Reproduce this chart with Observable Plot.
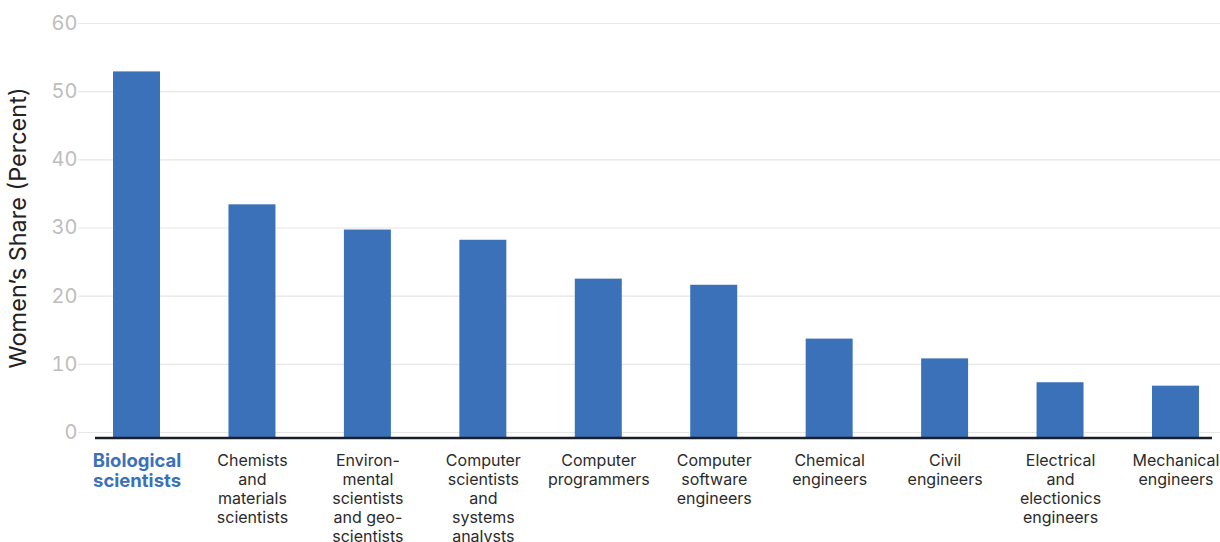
<!DOCTYPE html>
<html>
<head>
<meta charset="utf-8">
<script src="https://cdn.jsdelivr.net/npm/d3@7"></script>
<script src="https://cdn.jsdelivr.net/npm/@observablehq/plot@0.6"></script>
<style>
  html, body { margin: 0; padding: 0; background: #fff; }
  #chart svg { display: block; }
</style>
</head>
<body>
<div id="chart"></div>
<script>
const categories = [
  "Biological scientists",
  "Chemists and materials scientists",
  "Environmental scientists and geoscientists",
  "Computer scientists and systems analysts",
  "Computer programmers",
  "Computer software engineers",
  "Chemical engineers",
  "Civil engineers",
  "Electrical and electionics engineers",
  "Mechanical engineers"
];
const tickLabels = [
  "Biological\nscientists",
  "Chemists\nand\nmaterials\nscientists",
  "Environ-\nmental\nscientists\nand geo-\nscientists",
  "Computer\nscientists\nand\nsystems\nanalysts",
  "Computer\nprogrammers",
  "Computer\nsoftware\nengineers",
  "Chemical\nengineers",
  "Civil\nengineers",
  "Electrical\nand\nelectionics\nengineers",
  "Mechanical\nengineers"
];
const shares = [52.9, 33.4, 29.7, 28.2, 22.5, 21.6, 13.7, 10.8, 7.3, 6.8];
const yTicks = [0, 10, 20, 30, 40, 50, 60];
const yLabel = "Women’s Share (Percent)";

const data = categories.map((c, i) => ({category: c, label: tickLabels[i], share: shares[i]}));

const font = "Inter, 'Open Sans', sans-serif";

const chart = Plot.plot({
  width: 1220,
  height: 542,
  marginTop: 23,
  marginBottom: 110,
  marginLeft: 78,
  marginRight: 0,
  style: {fontFamily: font, background: "#fff"},
  x: {type: "band", domain: categories, range: [78.8, 1233.2], round: false, paddingInner: 0.593, paddingOuter: 0.2965, axis: null},
  y: {domain: [0, 60], ticks: yTicks, label: null},
  marks: [
    Plot.gridY(yTicks, {stroke: "#e6e6e6", strokeOpacity: 1, strokeWidth: 1.2}),
    Plot.axisY(yTicks, {tickSize: 0, tickPadding: 1, fontSize: 20, fill: "#bdbdbd", label: null}),
    Plot.barY(data, {x: "category", y: "share", fill: "#3b71b9", insetBottom: -5}),
    Plot.ruleY([0], {stroke: "#1b1f28", strokeWidth: 2.5, dy: 5.5, insetLeft: 17, insetRight: 8}),
    Plot.text(data.slice(0, 1), {x: "category", text: "label", frameAnchor: "bottom", lineAnchor: "top", dy: 20, fontSize: 18.5, fontWeight: "bold", fill: "#3b71b9", lineHeight: 1.08}),
    Plot.text(data.slice(1), {x: "category", text: "label", frameAnchor: "bottom", lineAnchor: "top", dy: 20, fontSize: 16, fill: "#2b2b2b", lineHeight: 1.19}),
    Plot.text([yLabel], {frameAnchor: "left", textAnchor: "middle", lineAnchor: "middle", dx: -60, dy: 0, rotate: -90, fontSize: 23.5, fill: "#222"})
  ]
});
document.getElementById("chart").appendChild(chart);
</script>
</body>
</html>
